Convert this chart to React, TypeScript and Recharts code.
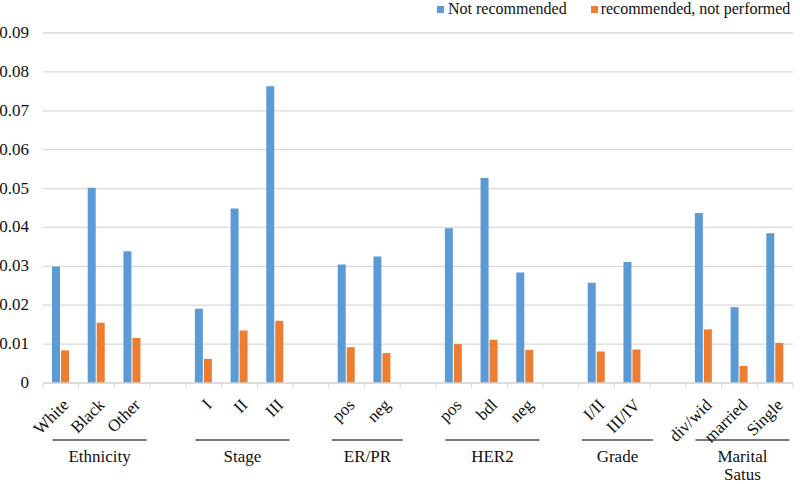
import React from 'react';
import { BarChart, Bar, XAxis, YAxis, CartesianGrid, Legend } from 'recharts';

const categories = ['White', 'Black', 'Other', '', 'I', 'II', 'III', '', 'pos', 'neg', '', 'pos', 'bdl', 'neg', '', 'I/II', 'III/IV', '', 'div/wid', 'married', 'Single'];
const notRecommended = [0.0299, 0.0502, 0.0339, null, 0.0191, 0.0449, 0.0763, null, 0.0305, 0.0325, null, 0.0398, 0.0527, 0.0284, null, 0.0258, 0.0311, null, 0.0437, 0.0195, 0.0385];
const recommendedNotPerformed = [0.0084, 0.0155, 0.0116, null, 0.0062, 0.0135, 0.0160, null, 0.0092, 0.0077, null, 0.0100, 0.0111, 0.0085, null, 0.0081, 0.0086, null, 0.0138, 0.0044, 0.0103];
const groupNames = [['Ethnicity'], ['Stage'], ['ER/PR'], ['HER2'], ['Grade'], ['Marital', 'Satus']];
const groupStarts = [0, 4, 8, 11, 15, 18];
const groupSizes = [3, 3, 2, 3, 2, 3];
const yTicks = [0, 0.01, 0.02, 0.03, 0.04, 0.05, 0.06, 0.07, 0.08, 0.09];

const BLUE = '#5B9BD5';
const ORANGE = '#ED7D31';
const FONT = '"Liberation Serif", "Times New Roman", serif';

const WIDTH = 800;
const HEIGHT = 484;
const PLOT_LEFT = 43;
const PLOT_RIGHT = 7;
const SLOT = (WIDTH - PLOT_LEFT - PLOT_RIGHT) / categories.length;

const data = categories.map((c, i) => ({
  key: `c${i}`,
  label: c,
  notRec: notRecommended[i],
  recNot: recommendedNotPerformed[i],
}));

const XTick = ({ x, y, payload }: any) => {
  const i = payload.index;
  const label = categories[i];
  const g = groupStarts.indexOf(i);
  let group = null;
  if (g >= 0) {
    const n = groupSizes[g];
    const mid = x + ((n - 1) * SLOT) / 2 + 3;
    const w = n === 3 ? 94 : 71;
    group = (
      <g>
        <line x1={mid - w / 2} x2={mid + w / 2} y1={y + 57} y2={y + 57} stroke="#4a4a4a" strokeWidth={1.3} />
        {groupNames[g].map((t, k) => (
          <text key={k} x={mid} y={y + 79 + k * 18} textAnchor="middle" style={{ fontFamily: FONT }} fontSize={17} fill="#111">
            {t}
          </text>
        ))}
      </g>
    );
  }
  return (
    <g>
      <line x1={x - SLOT / 2} x2={x - SLOT / 2} y1={y} y2={y + 5} stroke="#d9d9d9" />
      {i === categories.length - 1 && (
        <line x1={x + SLOT / 2} x2={x + SLOT / 2} y1={y} y2={y + 5} stroke="#d9d9d9" />
      )}
      {label && (
        <text
          x={x + 9}
          y={y + 23}
          transform={`rotate(-45 ${x + 9} ${y + 23})`}
          textAnchor="end"
          style={{ fontFamily: FONT }}
          fontSize={17}
          fill="#111"
        >
          {label}
        </text>
      )}
      {group}
    </g>
  );
};

const YTick = ({ x, y, payload }: any) => (
  <text x={x + 2} y={y} dy={5} textAnchor="end" style={{ fontFamily: FONT }} fontSize={17} fill="#111">
    {payload.value === 0 ? '0' : payload.value.toFixed(2)}
  </text>
);

const LegendContent = () => (
  <div style={{ display: 'flex', alignItems: 'center', fontFamily: FONT, fontSize: 16, color: '#111', whiteSpace: 'nowrap', lineHeight: '18px' }}>
    <span style={{ display: 'inline-block', width: 7, height: 7, background: BLUE, marginRight: 4 }} />
    <span style={{ marginRight: 24 }}>Not recommended</span>
    <span style={{ display: 'inline-block', width: 7, height: 7, background: ORANGE, marginRight: 3 }} />
    <span>recommended, not performed</span>
  </div>
);

export default function App() {
  return (
    <div style={{ position: 'absolute', left: 0, top: 0, width: WIDTH, height: HEIGHT, background: '#fff', fontFamily: FONT }}>
      <BarChart
        width={WIDTH}
        height={HEIGHT}
        data={data}
        margin={{ top: 15, right: PLOT_RIGHT, bottom: 0, left: 0 }}
        barSize={8}
        barGap={1}
      >
        <CartesianGrid vertical={false} stroke="#d9d9d9" strokeWidth={1.3} />
        <XAxis
          dataKey="key"
          interval={0}
          height={101}
          tickLine={false}
          tickSize={0}
          tickMargin={0}
          axisLine={{ stroke: '#d9d9d9', strokeWidth: 1.3 }}
          tick={<XTick />}
        />
        <YAxis
          width={PLOT_LEFT}
          domain={[0, 0.09]}
          ticks={yTicks}
          axisLine={false}
          tickLine={false}
          tickSize={0}
          tickMargin={16}
          tick={<YTick />}
        />
        <Legend verticalAlign="top" content={<LegendContent />} wrapperStyle={{ top: 0, left: 437, width: 362 }} />
        <Bar dataKey="notRec" name="Not recommended" fill={BLUE} isAnimationActive={false} />
        <Bar dataKey="recNot" name="recommended, not performed" fill={ORANGE} isAnimationActive={false} />
      </BarChart>
    </div>
  );
}
